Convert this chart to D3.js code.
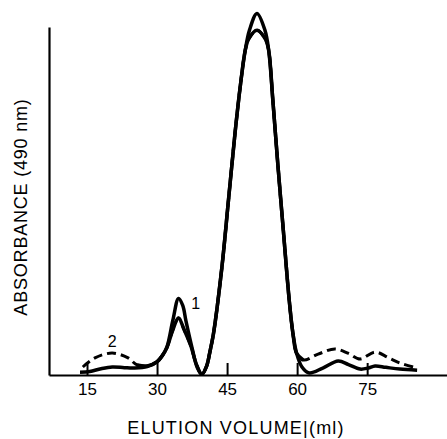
<!DOCTYPE html>
<html>
<head>
<meta charset="utf-8">
<script src="https://cdn.jsdelivr.net/npm/d3@7"></script>
<style>
	body { margin: 0; background: #fff; }
	svg { display: block; }
</style>
</head>
<body>
<div id="chart"></div>
<script>

// elution volume (ml) / absorbance, curve 1 is the solid one
const vol1 = [13.5, 15.6, 18, 20.4, 23, 25, 27.9, 30, 31.1, 32.1, 33.4, 34.6, 35.5, 36.2, 37.5, 38.6, 39.6,
	40.6, 41.3, 42.1, 43.9, 45.3, 46.7, 47.9, 48.9, 49.8, 51.4, 53.1, 53.9, 54.8, 55.9, 57.1, 58.3, 59.1,
	59.9, 61.0, 62.6, 65.5, 68.8, 71, 73.5, 75.2, 76.7, 79, 82, 85.7];
const abs1 = [0.008, 0.01, 0.018, 0.023, 0.021, 0.02, 0.024, 0.038, 0.055, 0.08, 0.158, 0.22, 0.2, 0.155, 0.078, 0.022, 0.002,
	0.025, 0.065, 0.12, 0.311, 0.503, 0.695, 0.838, 0.934, 0.991, 1.039, 0.991, 0.934, 0.79, 0.6, 0.407, 0.216, 0.12,
	0.062, 0.024, 0.006, 0.02, 0.04, 0.03, 0.017, 0.02, 0.026, 0.022, 0.017, 0.014];

// curve 2, dashed where it leaves curve 1
const vol2 = [14.1, 16.7, 20.4, 23.8, 25.7, 27.9, 30, 31.1, 32.1, 33.4, 34.6, 35.8, 37.2, 38.5, 39.6,
	40.6, 41.3, 42.1, 43.9, 45.3, 46.7, 47.9, 48.9, 49.6, 51.4, 53.2, 53.9, 54.8, 55.9, 57.1, 58.3, 59.1,
	59.9, 61.3, 64.5, 68.1, 71, 73.5, 76.7, 79.5, 82.1, 85.7];
const abs2 = [0.023, 0.049, 0.063, 0.049, 0.029, 0.026, 0.038, 0.055, 0.078, 0.13, 0.164, 0.13, 0.085, 0.028, 0.002,
	0.025, 0.065, 0.12, 0.311, 0.503, 0.695, 0.838, 0.934, 0.965, 0.991, 0.965, 0.934, 0.79, 0.6, 0.407, 0.216, 0.12,
	0.062, 0.043, 0.06, 0.075, 0.062, 0.046, 0.066, 0.05, 0.034, 0.02];

const xTicks = [15, 30, 45, 60, 75];
const xTitle = 'ELUTION VOLUME|(ml)';
const yTitle = 'ABSORBANCE (490 nm)';

const width = 447,
	height = 439,
	fontFam = '"Liberation Sans", Arial, Helvetica, sans-serif';

const x = d3.scaleLinear().domain([6.86, 92.1]).range([49, 447]);
const y = d3.scaleLinear().domain([0, 1]).range([375, 27]);

const svg = d3.select('#chart').append('svg')
	.attr('width', width)
	.attr('height', height);

const line = d3.line()
	.x(d => x(d.v))
	.y(d => y(d.a))
	.curve(d3.curveCatmullRom.alpha(0.5));

const data1 = vol1.map((v, i) => ({v: v, a: abs1[i]}));
const data2 = vol2.map((v, i) => ({v: v, a: abs2[i]}));

// axes
const xAxis = svg.append('g')
	.attr('transform', `translate(0,${y(0)})`)
	.call(d3.axisBottom(x)
		.tickValues(xTicks)
		.tickSizeInner(-12)
		.tickSizeOuter(0)
		.tickPadding(8));

xAxis.select('.domain').attr('stroke', '#000').attr('stroke-width', 2.2);
xAxis.selectAll('.tick line').attr('stroke', '#000').attr('stroke-width', 2);
xAxis.selectAll('.tick text')
	.style('font-family', fontFam)
	.style('font-size', '17px')
	.attr('fill', '#000');

const yAxis = svg.append('g')
	.attr('transform', `translate(${x.range()[0]},0)`)
	.call(d3.axisLeft(y).tickValues([]).tickSizeOuter(0));

yAxis.select('.domain').attr('stroke', '#000').attr('stroke-width', 2.2);

// curve 2: dashed everywhere, solid through the peaks
svg.append('path')
	.datum(data2)
	.attr('d', line)
	.attr('fill', 'none')
	.attr('stroke', '#000')
	.attr('stroke-width', 3)
	.attr('stroke-dasharray', '9,5');

svg.append('path')
	.datum(data2.filter(d => d.v >= 25.7 && d.v <= 61.3))
	.attr('d', line)
	.attr('fill', 'none')
	.attr('stroke', '#000')
	.attr('stroke-width', 3.5);

// curve 1
svg.append('path')
	.datum(data1)
	.attr('d', line)
	.attr('fill', 'none')
	.attr('stroke', '#000')
	.attr('stroke-width', 3.5)
	.attr('stroke-linejoin', 'round');

// curve labels
svg.append('text')
	.attr('x', x(37.3))
	.attr('y', y(0.19))
	.style('font-family', fontFam)
	.style('font-size', '16px')
	.text('1');

svg.append('text')
	.attr('x', x(20.4))
	.attr('y', y(0.08))
	.attr('text-anchor', 'middle')
	.style('font-family', fontFam)
	.style('font-size', '16px')
	.text('2');

// titles
svg.append('text')
	.attr('x', 236)
	.attr('y', 434)
	.attr('text-anchor', 'middle')
	.style('font-family', fontFam)
	.style('font-size', '18px')
	.style('letter-spacing', '1.2px')
	.text(xTitle);

svg.append('text')
	.attr('transform', 'translate(27,207)rotate(-90)')
	.attr('text-anchor', 'middle')
	.style('font-family', fontFam)
	.style('font-size', '18px')
	.style('letter-spacing', '0.8px')
	.text(yTitle);

</script>
</body>
</html>
